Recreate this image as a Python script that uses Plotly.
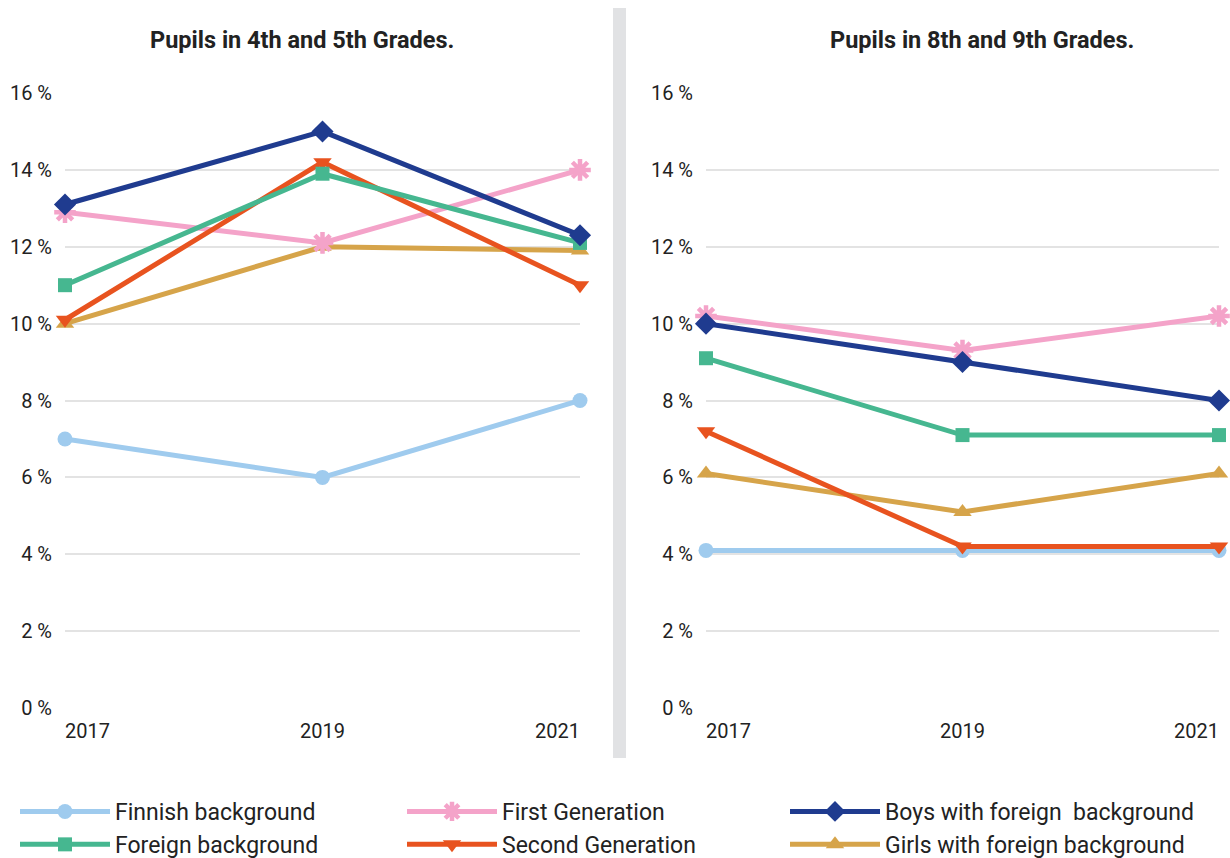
import plotly.graph_objects as go

years = [2017, 2019, 2021]
year_labels = ["2017", "2019", "2021"]
y_ticks = [0, 2, 4, 6, 8, 10, 12, 14, 16]
y_tick_labels = [f"{v} %" for v in y_ticks]

panel_titles = ["Pupils in 4th and 5th Grades.", "Pupils in 8th and 9th Grades."]

# legend columns (each column is its own legend)
legend_columns = [
    ["Finnish background", "Foreign background"],
    ["First Generation", "Second Generation"],
    ["Boys with foreign  background", "Girls with foreign background"],
]

# Pupils in 4th and 5th grades
grades_4_5 = {
    "Finnish background": [7.0, 6.0, 8.0],
    "First Generation": [12.9, 12.1, 14.0],
    "Boys with foreign  background": [13.1, 15.0, 12.3],
    "Foreign background": [11.0, 13.9, 12.1],
    "Second Generation": [10.1, 14.2, 11.0],
    "Girls with foreign background": [10.0, 12.0, 11.9],
}

# Pupils in 8th and 9th grades
grades_8_9 = {
    "Finnish background": [4.1, 4.1, 4.1],
    "First Generation": [10.2, 9.3, 10.2],
    "Boys with foreign  background": [10.0, 9.0, 8.0],
    "Foreign background": [9.1, 7.1, 7.1],
    "Second Generation": [7.2, 4.2, 4.2],
    "Girls with foreign background": [6.1, 5.1, 6.1],
}

colors = {
    "Finnish background": "#9fcbee",
    "First Generation": "#f4a3c9",
    "Boys with foreign  background": "#1f3b8f",
    "Foreign background": "#46b790",
    "Second Generation": "#e8531f",
    "Girls with foreign background": "#d6a44a",
}
symbols = {
    "Finnish background": "circle",
    "First Generation": "asterisk",
    "Boys with foreign  background": "diamond",
    "Foreign background": "square",
    "Second Generation": "triangle-down",
    "Girls with foreign background": "triangle-up",
}
sizes = {
    "Finnish background": 15,
    "First Generation": 18,
    "Boys with foreign  background": 17,
    "Foreign background": 14,
    "Second Generation": 16,
    "Girls with foreign background": 16,
}

W, H = 1230, 858
FONT = "Roboto"

fig = go.Figure()

draw_order = [
    "Finnish background",
    "Girls with foreign background",
    "First Generation",
    "Second Generation",
    "Foreign background",
    "Boys with foreign  background",
]
legend_of = {}
rank_of = {}
for ci, col in enumerate(legend_columns):
    for ri, name in enumerate(col):
        legend_of[name] = "legend" if ci == 0 else f"legend{ci + 1}"
        rank_of[name] = ri + 1

for axis_i, data in enumerate([grades_4_5, grades_8_9]):
    xa = "x" if axis_i == 0 else "x2"
    ya = "y" if axis_i == 0 else "y2"
    for name in draw_order:
        c = colors[name]
        sym = symbols[name]
        marker = dict(symbol=sym, size=sizes[name], color=c)
        if sym == "asterisk":
            marker["line"] = dict(color=c, width=4.5)
        fig.add_trace(go.Scatter(
            x=years, y=data[name], name=name, mode="lines+markers",
            line=dict(color=c, width=5), marker=marker,
            xaxis=xa, yaxis=ya, cliponaxis=False,
            showlegend=(axis_i == 0), legend=legend_of[name],
            legendrank=rank_of[name],
        ))

y_top = 1 - 93 / H
y_bot = 1 - 708 / H
axis_common = dict(range=[0, 16], tickvals=y_ticks, ticktext=y_tick_labels,
                   showgrid=True, gridcolor="#e3e3e3", gridwidth=1.5,
                   zeroline=False, showline=False, ticks="",
                   ticklabelstandoff=12,
                   tickfont=dict(family=FONT, size=20, color="#222222"),
                   domain=[y_bot, y_top], fixedrange=True)
x_common = dict(range=[2017, 2021], showgrid=False, zeroline=False,
                showline=False, showticklabels=False, ticks="", fixedrange=True)

legend_x_px = [15, 402, 785]
legend_common = dict(orientation="v", y=1 - 790 / H, xanchor="left", yanchor="top",
                     font=dict(family=FONT, size=23, color="#222222"),
                     itemwidth=90, traceorder="normal", bgcolor="rgba(0,0,0,0)")

fig.update_layout(
    width=W, height=H,
    margin=dict(l=0, r=0, t=0, b=0, autoexpand=False),
    paper_bgcolor="white", plot_bgcolor="white",
    font=dict(family=FONT, color="#222222"),
    xaxis=dict(domain=[65 / W, 580 / W], anchor="y", **x_common),
    yaxis=dict(anchor="x", **axis_common),
    xaxis2=dict(domain=[706 / W, 1219 / W], anchor="y2", **x_common),
    yaxis2=dict(anchor="x2", **axis_common),
    legend=dict(x=legend_x_px[0] / W, **legend_common),
    legend2=dict(x=legend_x_px[1] / W, **legend_common),
    legend3=dict(x=legend_x_px[2] / W, **legend_common),
    showlegend=True,
)

# divider
fig.add_shape(type="rect", xref="paper", yref="paper",
              x0=613 / W, x1=626 / W, y0=1 - 758 / H, y1=1 - 8 / H,
              fillcolor="#e1e2e4", line=dict(width=0), layer="below")

# titles
for title, cx in zip(panel_titles, [302 / W, 982 / W]):
    fig.add_annotation(text=title, xref="paper", yref="paper", x=cx, y=1 - 40 / H,
                       xanchor="center", yanchor="middle", showarrow=False,
                       font=dict(family=FONT, size=23.5, color="#222222", weight="bold"))

# x tick labels (edge-aligned)
anchors = ["left", "center", "right"]
for xa in ["x", "x2"]:
    for yv, lab, anc in zip(years, year_labels, anchors):
        fig.add_annotation(text=lab, xref=xa, yref="paper", x=yv, y=1 - 731 / H,
                           xanchor=anc, yanchor="middle", showarrow=False,
                           xshift=-2 if anc == "left" else (2 if anc == "right" else 0),
                           font=dict(family=FONT, size=20, color="#222222"))

fig.write_html("out.html", config={"displayModeBar": False},
               post_script="document.body.style.margin='0';document.body.style.overflow='hidden';")
